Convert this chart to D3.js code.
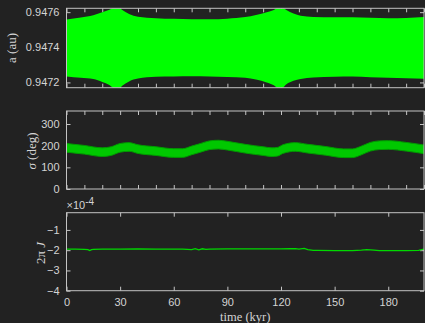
<!DOCTYPE html>
<html>
<head>
<meta charset="utf-8">
<script src="https://cdn.jsdelivr.net/npm/d3@7"></script>
<style>
  html, body { margin: 0; padding: 0; background: #222222; }
  svg { display: block; }
</style>
</head>
<body>
<svg id="chart" width="425" height="323"></svg>
<script>
// Time axis (kyr)
const xTicks = [0, 30, 60, 90, 120, 150, 180];
const xMinorTicks = [0, 10, 20, 30, 40, 50, 60, 70, 80, 90, 100, 110, 120, 130, 140, 150, 160, 170, 180, 190, 200];

// Semi-major axis envelope (au)
const aTime  = [0, 8, 15, 20, 24, 28, 31, 35, 40, 50, 60, 70, 80, 90, 100, 106, 112, 116, 119.5, 123, 127, 131, 138, 150, 160, 170, 180, 190, 200];
const aUpper = [0.947558, 0.947570, 0.947583, 0.947600, 0.947614, 0.947632, 0.947614, 0.947590, 0.947574, 0.947566,
                0.947562, 0.947560, 0.947560, 0.947563, 0.947572, 0.947584, 0.947600, 0.947613, 0.947632, 0.947612,
                0.947592, 0.947580, 0.947573, 0.947571, 0.947571, 0.947568, 0.947565, 0.947567, 0.947573];
const aLower = [0.947234, 0.947226, 0.947220, 0.947203, 0.947186, 0.947158, 0.947180, 0.947206, 0.947222, 0.947232,
                0.947234, 0.947235, 0.947234, 0.947231, 0.947226, 0.947216, 0.947200, 0.947184, 0.947158, 0.947190,
                0.947210, 0.947220, 0.947228, 0.947233, 0.947234, 0.947230, 0.947227, 0.947224, 0.947221];
const aTicks = [0.9472, 0.9474, 0.9476];

// Resonant angle band (deg)
const sigmaTime = [0, 10, 20, 25, 30, 35, 40, 50, 60, 65, 70, 75, 80, 85, 90, 95, 100, 105, 110, 115, 118, 121, 125, 128, 135, 145, 155, 160, 165, 170, 175, 180, 190, 200];
const sigmaHigh = [210, 201, 190, 195, 210, 214, 204, 195, 186, 186, 198, 210, 222, 225, 220, 213, 206, 200, 195, 190, 192, 204, 212, 214, 206, 196, 185, 185, 198, 215, 222, 223, 215, 203];
const sigmaLow  = [170, 161, 150, 155, 170, 174, 164, 155, 146, 146, 158, 170, 182, 185, 180, 173, 166, 160, 155, 150, 152, 164, 172, 174, 166, 156, 145, 145, 158, 175, 182, 183, 175, 163];
const sigmaTicks = [0, 100, 200, 300];

// 2*pi*J
const jTime  = [0, 5, 10, 12, 13, 14, 15, 20, 30, 40, 50, 60, 65, 70, 72, 74, 76, 78, 80, 90, 100, 110, 120, 125, 128, 130, 133, 135, 138, 140, 150, 160, 165, 168, 172, 175, 190, 197, 200];
const jValue = [-1.95e-4, -1.95e-4, -1.96e-4, -1.97e-4, -2.02e-4, -1.97e-4, -1.96e-4, -1.95e-4, -1.95e-4, -1.94e-4,
                -1.95e-4, -1.95e-4, -1.95e-4, -1.97e-4, -1.92e-4, -1.98e-4, -1.93e-4, -1.96e-4, -1.95e-4, -1.94e-4,
                -1.94e-4, -1.94e-4, -1.94e-4, -1.93e-4, -1.92e-4, -1.95e-4, -1.91e-4, -1.97e-4, -2.01e-4, -2.01e-4,
                -2.02e-4, -2.02e-4, -2.00e-4, -1.97e-4, -2.00e-4, -2.02e-4, -2.02e-4, -2.01e-4, -1.95e-4];
const jTicks = [-4e-4, -3e-4, -2e-4, -1e-4];

const AXIS = "#c4c4c4";
const TEXT = "#d4d4d4";
const SANS = "'Liberation Sans', Arial, sans-serif";
const SERIF = "'Liberation Serif', 'Times New Roman', serif";

const svg = d3.select("#chart");
svg.append("rect").attr("width", 425).attr("height", 323).attr("fill", "#222222");

const left = 66.5, right = 424;
const x = d3.scaleLinear().domain([0, 200]).range([left, right]);

const panels = [
  { top: 8.3,   bottom: 87.7,  domain: [0.94717, 0.947622] },
  { top: 111,   bottom: 189,   domain: [0, 360] },
  { top: 212.7, bottom: 290.7, domain: [-4e-4, -0.15e-4] }
];
const defs = svg.append("defs");
panels.forEach((p, i) => {
  p.y = d3.scaleLinear().domain(p.domain).range([p.bottom, p.top]);
  defs.append("clipPath").attr("id", "clip" + i)
    .append("rect").attr("x", left).attr("y", p.top)
    .attr("width", right - left).attr("height", p.bottom - p.top);
});

function styleAxis(g) {
  g.select(".domain").remove();
  g.selectAll(".tick line").attr("stroke", AXIS).attr("stroke-width", 1);
  g.selectAll(".tick text").attr("fill", TEXT).attr("font-family", SANS).attr("font-size", 11);
}

function drawFrame(p, xTickVals, yTickVals, yFormat, showX) {
  // inward ticks on all four sides
  svg.append("g").attr("transform", `translate(0,${p.bottom})`)
    .call(d3.axisBottom(x).tickValues(xTickVals).tickSizeInner(-4).tickSizeOuter(0).tickPadding(7.5)
      .tickFormat(showX ? d3.format("d") : () => ""))
    .call(styleAxis);
  svg.append("g").attr("transform", `translate(0,${p.top})`)
    .call(d3.axisTop(x).tickValues(xTickVals).tickSizeInner(-4).tickSizeOuter(0).tickFormat(() => ""))
    .call(styleAxis);
  svg.append("g").attr("transform", `translate(${left},0)`)
    .call(d3.axisLeft(p.y).tickValues(yTickVals).tickSizeInner(-4).tickSizeOuter(0).tickPadding(7).tickFormat(yFormat))
    .call(styleAxis);
  svg.append("g").attr("transform", `translate(${right},0)`)
    .call(d3.axisRight(p.y).tickValues(yTickVals).tickSizeInner(-4).tickSizeOuter(0).tickFormat(() => ""))
    .call(styleAxis);
}

function drawBox(p) {
  svg.append("rect")
    .attr("x", left).attr("y", p.top)
    .attr("width", right - left).attr("height", p.bottom - p.top)
    .attr("fill", "none").attr("stroke", AXIS).attr("stroke-width", 1);
}

// Panel 1: semi-major axis
const p1 = panels[0];
drawFrame(p1, xMinorTicks, aTicks, d3.format(".4f"), false);
const aData = aTime.map((t, k) => ({ t, hi: aUpper[k], lo: aLower[k] }));
svg.append("path")
  .datum(aData)
  .attr("clip-path", "url(#clip0)")
  .attr("fill", "#00ff00")
  .attr("d", d3.area().x(d => x(d.t)).y0(d => p1.y(d.lo)).y1(d => p1.y(d.hi)).curve(d3.curveMonotoneX));
drawBox(p1);

// Panel 2: resonant angle
const p2 = panels[1];
drawFrame(p2, xMinorTicks, sigmaTicks, d3.format("d"), false);
const sData = sigmaTime.map((t, k) => ({ t, hi: sigmaHigh[k], lo: sigmaLow[k] }));
svg.append("path")
  .datum(sData)
  .attr("clip-path", "url(#clip1)")
  .attr("fill", "#00c800")
  .attr("stroke", "#009c00")
  .attr("stroke-width", 1)
  .attr("d", d3.area().x(d => x(d.t)).y0(d => p2.y(d.lo)).y1(d => p2.y(d.hi)).curve(d3.curveMonotoneX));
drawBox(p2);

// Panel 3: 2*pi*J
const p3 = panels[2];
drawFrame(p3, xTicks, jTicks, d => d3.format("d")(Math.round(d / 1e-4)), true);
const jData = jTime.map((t, k) => ({ t, v: jValue[k] }));
svg.append("path")
  .datum(jData)
  .attr("clip-path", "url(#clip2)")
  .attr("fill", "none")
  .attr("stroke", "#00d800")
  .attr("stroke-width", 1.3)
  .attr("d", d3.line().x(d => x(d.t)).y(d => p3.y(d.v)));
drawBox(p3);

// Exponent marker above panel 3
const expo = svg.append("text")
  .attr("x", left).attr("y", 209)
  .attr("fill", TEXT).attr("font-family", SANS).attr("font-size", 11);
expo.append("tspan").text("\u00d710");
expo.append("tspan").attr("font-size", 10).attr("dy", -4.5).text("-4");

// Axis titles
svg.append("text")
  .attr("transform", "translate(16,48) rotate(-90)")
  .attr("text-anchor", "middle")
  .attr("fill", TEXT).attr("font-family", SERIF).attr("font-size", 13)
  .text("a (au)");

const sigTitle = svg.append("text")
  .attr("transform", "translate(35.5,151) rotate(-90)")
  .attr("text-anchor", "middle")
  .attr("fill", TEXT).attr("font-family", SERIF).attr("font-size", 13);
sigTitle.append("tspan").attr("font-style", "italic").text("\u03c3");
sigTitle.append("tspan").text(" (deg)");

const jTitle = svg.append("text")
  .attr("transform", "translate(45,253) rotate(-90)")
  .attr("text-anchor", "middle")
  .attr("fill", TEXT).attr("font-family", SERIF).attr("font-size", 13);
jTitle.append("tspan").text("2\u03c0 ");
jTitle.append("tspan").attr("font-style", "italic").text("J");

svg.append("text")
  .attr("x", (left + right) / 2).attr("y", 320.5)
  .attr("text-anchor", "middle")
  .attr("fill", TEXT).attr("font-family", SERIF).attr("font-size", 12.5)
  .text("time (kyr)");
</script>
</body>
</html>
